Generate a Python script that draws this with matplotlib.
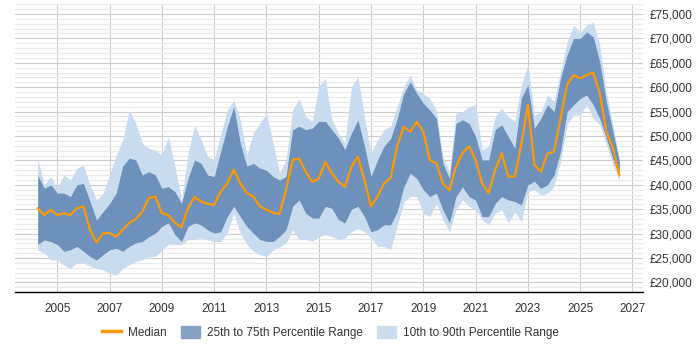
import matplotlib.pyplot as plt
import numpy as np
from matplotlib.lines import Line2D
from matplotlib.patches import Patch
from matplotlib.ticker import FuncFormatter, MultipleLocator

plt.rcParams['font.family'] = ['Liberation Sans', 'DejaVu Sans']

# quarterly samples, 2004 Q2 .. 2026 Q3 (values in £ thousands)
years = np.arange(2004.25, 2026.51, 0.25)

median = [
    35.2, 33.8, 34.9, 33.8, 34.2, 33.8, 35.2, 35.6, 30.8, 28.2, 30.1, 30.1, 29.4, 30.8, 32.2, 33.0, 34.5, 37.3,
    37.6, 34.2, 33.8, 32.2, 31.3, 35.2, 37.5, 36.6, 36.1, 35.9, 38.6, 40.3, 43.1, 40.3, 38.3, 37.6, 35.6, 34.9,
    34.3, 34.0, 38.9, 45.1, 45.4, 42.7, 40.6, 41.3, 44.7, 42.4, 40.6, 39.6, 43.7, 45.8, 41.0, 35.6, 37.6, 40.3, 41.5,
    47.9, 51.9, 50.9, 52.9, 50.9, 45.1, 44.4, 40.3, 38.9, 43.7, 46.5, 47.9, 45.1, 40.3, 38.3, 43.1, 46.5, 41.7,
    41.7, 48.3, 56.4, 44.1, 42.7, 46.4, 46.8, 53.6, 60.5, 62.5, 61.8, 62.5, 63.0, 58.8, 51.0, 47.5, 42.0,
]
p75 = [
    42.0, 39.3, 40.0, 38.3, 38.3, 37.6, 40.0, 40.3, 36.6, 32.8, 34.5, 36.2, 38.3, 43.8, 45.5, 45.1, 42.0, 42.7,
    42.0, 39.3, 39.6, 38.6, 36.2, 41.3, 45.1, 44.4, 42.0, 41.7, 46.8, 51.9, 56.0, 48.5, 43.8, 44.4, 43.4, 43.0,
    41.7, 41.0, 41.7, 51.3, 52.0, 51.3, 51.6, 53.0, 53.0, 51.3, 49.6, 47.2, 50.6, 53.3, 47.9, 41.7, 45.1, 47.9, 49.5,
    53.5, 58.7, 61.1, 58.7, 56.7, 55.3, 53.6, 44.4, 41.3, 52.6, 53.3, 52.6, 49.9, 45.1, 45.1, 51.3, 52.3, 49.9,
    47.5, 57.7, 60.5, 51.6, 53.6, 56.4, 55.0, 61.8, 66.6, 70.0, 70.0, 71.3, 70.3, 65.2, 57.1, 51.0, 44.8,
]
p25 = [
    27.8, 28.7, 28.4, 27.8, 26.4, 26.7, 27.4, 26.4, 25.3, 24.6, 25.7, 26.7, 27.0, 26.4, 27.4, 28.1, 28.4, 29.4,
    30.1, 31.5, 32.2, 29.8, 28.4, 31.5, 32.2, 31.8, 30.8, 30.1, 30.4, 33.5, 35.6, 33.5, 31.5, 30.1, 28.8, 28.4,
    28.4, 29.4, 30.8, 35.6, 36.9, 34.2, 33.2, 33.2, 35.6, 35.2, 32.9, 32.2, 35.0, 35.6, 33.5, 30.4, 30.8, 31.8, 31.8,
    34.5, 39.5, 42.4, 41.3, 39.0, 37.6, 38.3, 34.9, 32.2, 37.6, 39.6, 37.6, 36.9, 33.5, 33.5, 36.2, 37.6, 36.9,
    36.6, 35.9, 40.0, 40.7, 39.3, 40.0, 42.0, 46.8, 55.0, 56.4, 57.7, 58.4, 56.4, 53.6, 49.6, 45.4, 41.7,
]
p90 = [
    45.4, 40.0, 41.7, 39.3, 42.0, 41.0, 43.4, 44.0, 40.0, 36.9, 38.3, 42.0, 46.0, 49.2, 55.3, 52.6, 48.5, 47.5,
    47.1, 46.1, 49.9, 43.8, 36.9, 46.4, 52.2, 49.2, 45.8, 45.1, 50.2, 55.3, 57.4, 53.3, 46.1, 50.6, 52.6, 54.6,
    48.6, 42.4, 45.1, 55.3, 57.7, 54.0, 53.0, 60.1, 61.8, 53.3, 50.6, 48.6, 60.1, 62.1, 54.0, 46.5, 49.2, 51.3, 52.0,
    56.0, 60.1, 62.5, 59.4, 58.7, 57.7, 55.3, 45.8, 42.7, 54.6, 55.0, 56.0, 56.4, 47.2, 47.9, 54.0, 55.7, 54.0,
    53.0, 60.5, 64.6, 54.3, 55.0, 58.4, 57.1, 63.2, 69.3, 72.7, 71.3, 72.7, 73.4, 68.6, 59.1, 52.3, 45.4,
]
p10 = [
    26.7, 26.0, 24.6, 24.6, 23.6, 22.9, 24.0, 24.0, 23.3, 22.9, 22.6, 21.9, 21.5, 22.9, 23.6, 24.3, 24.6, 25.3,
    25.3, 26.7, 27.8, 27.8, 27.8, 28.8, 28.8, 29.1, 28.8, 28.4, 28.4, 30.1, 34.2, 30.1, 27.8, 26.4, 25.7, 25.3,
    26.7, 27.3, 28.1, 30.8, 28.8, 28.8, 28.4, 29.4, 29.8, 29.4, 28.8, 29.1, 30.4, 31.1, 30.4, 29.1, 27.4, 27.4, 26.7,
    31.5, 36.5, 37.6, 37.6, 34.2, 33.5, 36.2, 32.9, 30.4, 34.9, 36.9, 35.6, 34.9, 32.9, 31.8, 34.2, 34.9, 32.2,
    34.5, 32.5, 38.6, 39.0, 37.9, 38.3, 39.6, 44.8, 52.3, 54.3, 54.3, 56.4, 53.6, 52.3, 48.3, 44.1, 41.0,
]

x_ticks = list(range(2005, 2028, 2))

ORANGE = '#ff9900'
DARK = '#6d91bb'
LIGHT = '#c9dbee'

med, q25, q75, q10, q90 = [np.array(a) * 1000 for a in (median, p25, p75, p10, p90)]

fig = plt.figure(figsize=(7, 3.5), dpi=100)
ax = fig.add_axes([0.0214, 0.165, 0.897, 0.823])

ax.fill_between(years, q10, q90, color=LIGHT, lw=0, zorder=2)
ax.fill_between(years, q25, q75, color=DARK, lw=0, zorder=3)
ax.plot(years, med, color=ORANGE, lw=1.6, zorder=4)

ax.set_xlim(2003.38, 2027.4)
ax.set_ylim(18000, 77000)
ax.set_xticks(x_ticks)
ax.yaxis.set_major_locator(MultipleLocator(5000))
ax.yaxis.set_minor_locator(MultipleLocator(1000))
ax.yaxis.set_major_formatter(FuncFormatter(lambda v, _: f'£{int(v):,}'))
ax.yaxis.tick_right()

ax.grid(which='major', axis='both', color='#cccccc', lw=0.8, zorder=0)
ax.grid(which='minor', axis='y', color='#e9e9e9', lw=0.8, zorder=0)
ax.set_axisbelow(True)

for s in ('left', 'right', 'top'):
    ax.spines[s].set_visible(False)
ax.spines['bottom'].set_color('black')
ax.spines['bottom'].set_linewidth(1.0)

ax.tick_params(axis='y', which='both', length=0, pad=5, labelsize=8.5, colors='#333333')
ax.tick_params(axis='x', length=0, pad=8, labelsize=8.5, colors='#333333')

# legend swatches are a touch lighter than the drawn bands
handles = [
    Line2D([], [], color=ORANGE, lw=2.5),
    Patch(color='#87a3c4'),
    Patch(color='#ccddee'),
]
labels = ['Median', '25th to 75th Percentile Range', '10th to 90th Percentile Range']
fig.legend(handles, labels, loc='center', bbox_to_anchor=(0.472, 0.05), ncol=3,
           frameon=False, fontsize=8.5, handlelength=1.6, handleheight=1.2,
           columnspacing=1.2, handletextpad=0.6, labelcolor='#333333')

fig.savefig('out.png', dpi=100)
